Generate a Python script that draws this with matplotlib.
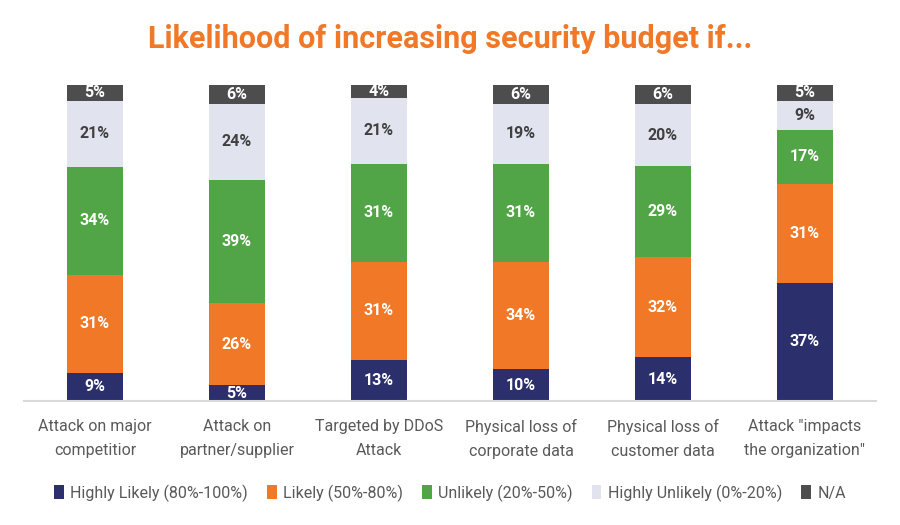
import matplotlib
matplotlib.use("Agg")
import matplotlib.pyplot as plt
import numpy as np
from matplotlib.patches import Patch

categories = ["Attack on major\ncompetitior", "Attack on\npartner/supplier",
              "Targeted by DDoS\nAttack", "Physical loss of\ncorporate data",
              "Physical loss of\ncustomer data", "Attack \"impacts\nthe organization\""]
series_names = ["Highly Likely (80%-100%)", "Likely (50%-80%)", "Unlikely (20%-50%)",
                "Highly Unlikely (0%-20%)", "N/A"]
highly_likely = [9, 5, 13, 10, 14, 37]
likely = [31, 26, 31, 34, 32, 31]
unlikely = [34, 39, 31, 31, 29, 17]
highly_unlikely = [21, 24, 21, 19, 20, 9]
na = [5, 6, 4, 6, 6, 5]

colors = ["#2B2F6B", "#F07826", "#52A546", "#E1E3EF", "#4D4D4D"]
label_colors = ["white", "white", "white", "#404040", "white"]

series = np.array([highly_likely, likely, unlikely, highly_unlikely, na], dtype=float)
totals = series.sum(axis=0)
shares = series / totals

fig = plt.figure(figsize=(9, 5.25), dpi=100)
ax = fig.add_axes([24/900, 1-401/525, 852/900, 316/525])
x = np.arange(len(categories))
bottom = np.zeros(len(categories))
for i, name in enumerate(series_names):
    ax.bar(x, shares[i], 0.4, bottom=bottom, color=colors[i], label=name, linewidth=0)
    for j in range(len(categories)):
        ax.text(x[j], bottom[j] + shares[i][j] / 2, f"{int(series[i][j])}%",
                ha="center", va="center", color=label_colors[i],
                fontsize=11.5, fontweight="bold", family=["Roboto", "DejaVu Sans"])
    bottom += shares[i]

ax.set_xlim(-0.5, len(categories) - 0.5)
ax.set_ylim(0, 1)
ax.set_yticks([])
ax.set_xticks(x)
ax.set_xticklabels(categories, fontsize=11.5, color="#595959",
                   family=["Roboto", "DejaVu Sans"], linespacing=1.75)
ax.tick_params(axis="x", length=0, pad=13)
for s in ["top", "right", "left"]:
    ax.spines[s].set_visible(False)
ax.spines["bottom"].set_color("#D9D9D9")
ax.spines["bottom"].set_linewidth(1.5)

fig.text(0.5, 1-39/525, "Likelihood of increasing security budget if...", ha="center", va="center",
         color="#F07826", fontsize=22, fontweight="bold", family=["Roboto", "DejaVu Sans"])

handles = [Patch(facecolor=c, edgecolor="none") for c in colors]
leg = fig.legend(handles, series_names, loc="center", bbox_to_anchor=(0.5, 1-493/525), ncol=5,
                 frameon=False, handlelength=0.6, handleheight=1.0, handletextpad=0.4,
                 columnspacing=1.2,
                 prop={"family": ["Roboto", "DejaVu Sans"], "size": 11.5})
for t in leg.get_texts():
    t.set_color("#595959")

fig.savefig("out.png", dpi=100)
